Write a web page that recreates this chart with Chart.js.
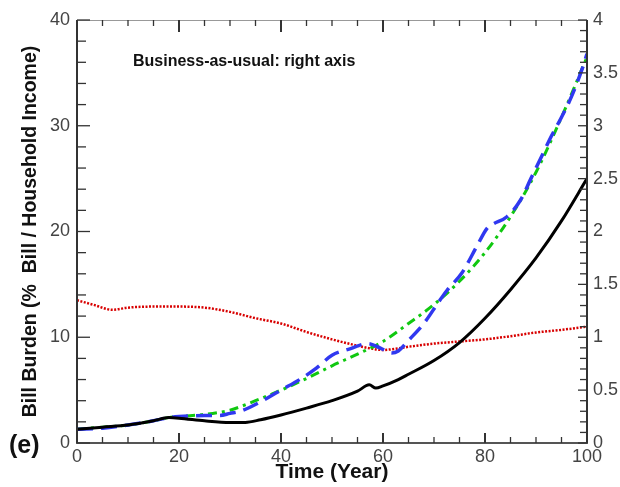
<!DOCTYPE html>
<html>
<head>
<meta charset="utf-8">
<script src="https://cdn.jsdelivr.net/npm/chart.js@4/dist/chart.umd.min.js"></script>
<style>
html,body{margin:0;padding:0;background:#fff;}
#wrap{position:relative;width:620px;height:487px;}
</style>
</head>
<body>
<div id="wrap"><canvas id="c" width="620" height="487"></canvas></div>
<script>
// ---- data ----
const blackYears  = [0,5,10,15,18,20,25,30,33,36,40,45,50,55,57.3,58.6,60,63,65,70,75,80,85,90,95,100];
const blackValues = [1.3,1.5,1.7,2.1,2.4,2.35,2.1,1.95,1.95,2.2,2.65,3.3,4.0,4.9,5.5,5.2,5.4,6.0,6.5,7.8,9.5,11.8,14.5,17.5,21.0,25.0];

const blueYears  = [0,5,10,15,18,20,25,28,30,32,36,40,44,47,50,53.5,57,59.4,61.7,63,65,68,71,72.5,75.5,78.4,80.4,81.6,84.3,87,89,91,93,95,97,99,100];
const blueValues = [1.3,1.4,1.7,2.1,2.4,2.5,2.6,2.6,2.8,3.0,3.9,5.0,6.1,7.1,8.3,8.9,9.4,9.0,8.5,8.7,9.7,11.3,13.4,14.4,16.1,18.6,20.3,20.7,21.4,23.0,25.0,27.0,29.0,30.8,32.8,35.3,36.8];

const greenYears  = [0,5,10,15,18,20,25,28,30,35,40,45,50,55,60,65,70,75,80,85,90,95,100];
const greenValues = [1.3,1.5,1.7,2.1,2.4,2.5,2.7,2.9,3.1,4.0,5.0,6.1,7.3,8.4,9.6,11.3,13.1,15.3,18.0,21.4,25.6,30.8,36.5];

// business-as-usual series, plotted against the right axis
const redYears  = [0,3,7,10,15,20,25,30,35,40,45,50,55,58,60,63,65,70,75,80,85,90,95,100];
const redValues = [1.35,1.31,1.26,1.28,1.29,1.29,1.28,1.24,1.18,1.13,1.05,0.98,0.92,0.89,0.88,0.895,0.91,0.94,0.96,0.98,1.01,1.045,1.07,1.10];

const xTicks = [0,20,40,60,80,100];
const leftTicks = [0,10,20,30,40];
const rightTicks = [0,0.5,1,1.5,2,2.5,3,3.5,4];

const yTitle = 'Bill Burden (%  Bill / Household Income)';
const xTitle = 'Time (Year)';
const noteText = 'Business-as-usual: right axis';
const panelLabel = '(e)';

function pts(xs, ys){ return xs.map((x,i)=>({x:x, y:ys[i]})); }

const FONT = "'Liberation Sans', Arial, sans-serif";

const frameTicks = {
  id:'frameTicks',
  afterDatasetsDraw(chart){
    const ctx = chart.ctx, a = chart.chartArea;
    const sx = chart.scales.x, sl = chart.scales.y, sr = chart.scales.y2;
    ctx.save();
    ctx.lineCap = 'butt';
    // frame
    ctx.strokeStyle = '#999'; ctx.lineWidth = 1;
    ctx.beginPath(); ctx.moveTo(a.left, a.top+0.5); ctx.lineTo(a.right, a.top+0.5); ctx.stroke();
    ctx.strokeStyle = '#333'; ctx.lineWidth = 2;
    ctx.beginPath(); ctx.moveTo(a.left, a.top); ctx.lineTo(a.left, a.bottom); ctx.stroke();
    ctx.beginPath(); ctx.moveTo(a.right, a.top); ctx.lineTo(a.right, a.bottom); ctx.stroke();
    ctx.strokeStyle = '#555';
    ctx.beginPath(); ctx.moveTo(a.left-1, a.bottom); ctx.lineTo(a.right+1, a.bottom); ctx.stroke();
    // x ticks (bottom and top, inward)
    ctx.strokeStyle = '#333';
    for (let v=0; v<=100; v+=5){
      const p = sx.getPixelForValue(v);
      const major = v%20===0;
      ctx.lineWidth = major ? 2 : 1.3;
      ctx.beginPath(); ctx.moveTo(p, a.bottom); ctx.lineTo(p, a.bottom-(major?10:6)); ctx.stroke();
      ctx.beginPath(); ctx.moveTo(p, a.top); ctx.lineTo(p, a.top+(major?12:6)); ctx.stroke();
    }
    // left ticks
    for (let v=0; v<=40; v+=2){
      const p = sl.getPixelForValue(v);
      const major = v%10===0;
      ctx.lineWidth = 1.3;
      ctx.beginPath(); ctx.moveTo(a.left, p); ctx.lineTo(a.left+(major?13:9), p); ctx.stroke();
    }
    // right ticks
    for (let k=0; k<=40; k++){
      const v = k/10;
      const p = sr.getPixelForValue(v);
      const major = k%5===0;
      ctx.lineWidth = 1.3;
      ctx.beginPath(); ctx.moveTo(a.right, p); ctx.lineTo(a.right-(major?9:7), p); ctx.stroke();
    }
    // annotation and panel label
    ctx.fillStyle = '#111';
    ctx.textBaseline = 'middle'; ctx.textAlign = 'left';
    ctx.font = "bold 16px " + FONT;
    ctx.fillText(noteText, 133, 62);
    ctx.font = "bold 25px " + FONT;
    ctx.fillText(panelLabel, 9, 446);
    ctx.restore();
  }
};

new Chart(document.getElementById('c'), {
  type:'line',
  data:{
    datasets:[
      {label:'black', data:pts(blackYears, blackValues), yAxisID:'y', borderColor:'#000', borderWidth:3, pointRadius:0, cubicInterpolationMode:'monotone', fill:false},
      {label:'blue', data:pts(blueYears, blueValues), yAxisID:'y', borderColor:'#3038f0', borderWidth:3.5, borderDash:[16,8], pointRadius:0, cubicInterpolationMode:'monotone', fill:false},
      {label:'green', data:pts(greenYears, greenValues), yAxisID:'y', borderColor:'#10c810', borderWidth:3, borderDash:[9,5,3,5], pointRadius:0, cubicInterpolationMode:'monotone', fill:false},
      {label:'red', data:pts(redYears, redValues), yAxisID:'y2', borderColor:'#d80000', borderWidth:2.5, borderDash:[2,1.5], pointRadius:0, cubicInterpolationMode:'monotone', fill:false}
    ]
  },
  options:{
    responsive:false,
    animation:false,
    layout:{padding:{top:20,left:0,right:0,bottom:0}},
    plugins:{legend:{display:false}, tooltip:{enabled:false}},
    scales:{
      x:{
        type:'linear', min:0, max:100,
        afterBuildTicks(s){ s.ticks = xTicks.map(v=>({value:v})); },
        afterFit(s){ s.height = 44; },
        grid:{display:false, drawTicks:false},
        border:{display:false},
        ticks:{color:'#444', font:{family:FONT, size:18}, padding:3, maxRotation:0, autoSkip:false, callback:(v)=>String(v)},
        title:{display:true, text:xTitle, color:'#111', font:{family:FONT, size:21, weight:'bold'}, padding:{top:0,bottom:2}}
      },
      y:{
        position:'left', min:0, max:40,
        afterBuildTicks(s){ s.ticks = leftTicks.map(v=>({value:v})); },
        afterFit(s){ s.width = 77; },
        grid:{display:false, drawTicks:false},
        border:{display:false},
        ticks:{color:'#444', font:{family:FONT, size:18}, padding:7, callback:(v)=>String(v)},
        title:{display:true, text:yTitle, color:'#111', font:{family:FONT, size:19.5, weight:'bold'}, padding:{top:19,bottom:0}}
      },
      y2:{
        position:'right', min:0, max:4,
        afterBuildTicks(s){ s.ticks = rightTicks.map(v=>({value:v})); },
        afterFit(s){ s.width = 33; },
        grid:{display:false, drawTicks:false},
        border:{display:false},
        ticks:{color:'#444', font:{family:FONT, size:18}, padding:6, callback:(v)=>String(v)}
      }
    }
  },
  plugins:[frameTicks]
});
</script>
</body>
</html>
